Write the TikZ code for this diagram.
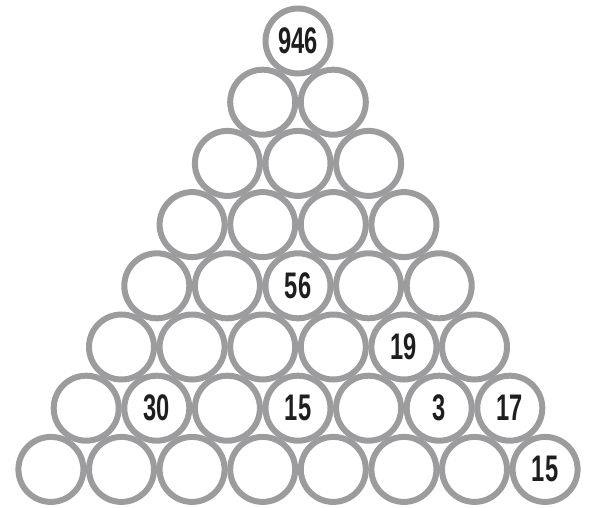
\documentclass[tikz,border=0pt]{standalone}
\usepackage{fontspec}
\newfontfamily\numfont[FakeStretch=0.64]{Liberation Sans}
\usepackage{tikz}
\definecolor{ring}{HTML}{9C9C9F}
\definecolor{digit}{HTML}{1E1E1E}
\tikzset{
  ball/.style={circle, draw=ring, line width=6pt, minimum size=65pt, inner sep=0pt,
    font=\numfont\bfseries\fontsize{37}{37}\selectfont, text=digit},
}
\begin{document}
\begin{tikzpicture}[x=1pt, y=-1pt]
\useasboundingbox (0,0) rectangle (591,508);
% pyramid of rings, row r has r+1 rings
\foreach \r in {0,...,7}{
  \foreach \j in {0,...,\r}{
    \node[ball] (c-\r-\j) at ({298+(\j-\r/2)*70.6}, {41+\r*61.2}) {};
  }
}
% given numbers
\node[ball, draw=none] at (c-0-0) {946};
\node[ball, draw=none] at (c-4-2) {56};
\node[ball, draw=none] at (c-5-4) {19};
\node[ball, draw=none] at (c-6-1) {30};
\node[ball, draw=none] at (c-6-3) {15};
\node[ball, draw=none] at (c-6-5) {3};
\node[ball, draw=none] at (c-6-6) {17};
\node[ball, draw=none] at (c-7-7) {15};
\end{tikzpicture}
\end{document}
